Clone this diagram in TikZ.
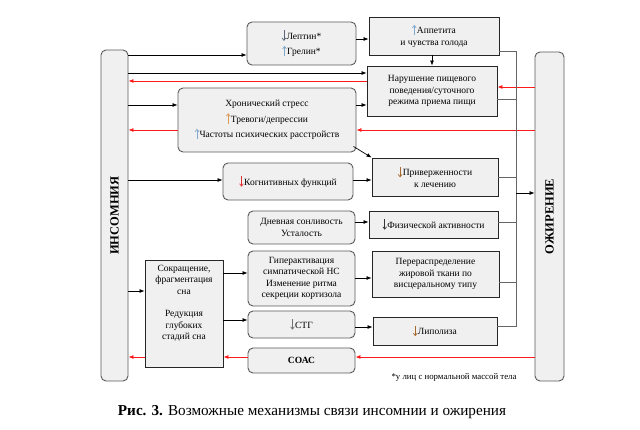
\documentclass[tikz,border=0pt]{standalone}
\usepackage{fontspec}
\usepackage{graphicx}
\setmainfont{Liberation Serif}
\usetikzlibrary{arrows.meta,calc}
\definecolor{boxfill}{HTML}{F0F0F0}
\definecolor{rbord}{HTML}{5A5A5A}
\definecolor{redl}{HTML}{FF1A1A}
\definecolor{upblue}{HTML}{7FA8CC}
\definecolor{uporange}{HTML}{D99A5A}
\definecolor{dnred}{HTML}{E03030}
\definecolor{dngrey}{HTML}{5A6478}
\definecolor{dnbrown}{HTML}{A86A2A}
\newcommand{\UPa}[1]{\tikz[baseline=0pt,x=1pt,y=1pt]\draw[draw=#1,line width=0.7pt,-{Straight Barb[length=2.4pt,width=3.8pt]}] (0,-1.5) -- (0,9);\hspace{0.4pt}}
\newcommand{\DNa}[1]{\tikz[baseline=0pt,x=1pt,y=1pt]\draw[draw=#1,line width=0.7pt,-{Straight Barb[length=2.4pt,width=3.8pt]}] (0,9) -- (0,-1.5);\hspace{0.4pt}}
\newcommand{\txt}{\fontsize{9.5}{11.5}\selectfont}
\begin{document}
\begin{tikzpicture}[x=1pt,y=-1pt,
  rbox/.style={draw=rbord, fill=boxfill, rounded corners=5pt, line width=0.9pt, inner sep=1pt, align=center, font=\txt},
  sbox/.style={draw=black!85, fill=boxfill, line width=0.9pt, inner sep=1pt, align=center, font=\txt},
  arr/.style={-{Latex[length=5pt,width=4pt]}, line width=0.7pt, draw=black},
  rarr/.style={-{Latex[length=5pt,width=4pt]}, line width=0.8pt, draw=redl},
  bus/.style={line width=0.9pt, draw=black!60},
  vlab/.style={rotate=90, font=\fontsize{12.5}{13}\selectfont\bfseries}]
\fill[white] (0,0) rectangle (640,430);
\useasboundingbox (0,0) rectangle (640,430);

% main side boxes
\node[rbox, minimum width=27pt, minimum height=331pt] (ins) at (114.5,215.5) {};
\node[vlab] (insT) at (ins.center) {ИНСОМНИЯ};
\node[rbox, minimum width=29pt, minimum height=329pt] (obe) at (549.5,216.5) {};
\node[vlab] (obeT) at (obe.center) {ОЖИРЕНИЕ};

% boxes
\node[rbox, minimum width=109pt, minimum height=43pt] (lep) at (301.5,43.5) {\DNa{dngrey}Лептин*\\[4pt]\UPa{upblue}Грелин*};
\node[sbox, minimum width=130pt, minimum height=38pt] (app) at (434,36) {\UPa{upblue}Аппетита\\и чувства голода};
\node[sbox, minimum width=130pt, minimum height=50pt] (nar) at (432,91) {Нарушение пищевого\\поведения/суточного\\режима приема пищи};
\node[rbox, minimum width=178pt, minimum height=64pt] (str) at (267,120) {Хронический стресс\\[4pt]\UPa{uporange}Тревоги/депрессии\\[4pt]\UPa{upblue}Частоты психических расстройств};
\node[sbox, minimum width=126pt, minimum height=38pt] (pri) at (435,177) {\DNa{dnbrown}Приверженности\\к лечению};
\node[rbox, minimum width=130pt, minimum height=37pt] (kog) at (288,181.5) {\DNa{dnred}Когнитивных функций};
\node[rbox, minimum width=107pt, minimum height=33pt] (dne) at (301.5,227.5) {Дневная сонливость\\Усталость};
\node[sbox, minimum width=129pt, minimum height=27pt] (fiz) at (433.5,224.5) {\DNa{black!80}Физической активности};
\node[sbox, minimum width=78pt, minimum height=107pt] (sok) at (184,313.5) {};
\node[font=\txt, align=center] (sokT) at (184,303.5) {Сокращение,\\фрагментация\\сна\\[11pt]Редукция\\глубоких\\стадий сна};
\node[rbox, minimum width=107pt, minimum height=55pt] (gip) at (301.5,278.5) {Гиперактивация\\симпатической НС\\Изменение ритма\\секреции кортизола};
\node[sbox, minimum width=127pt, minimum height=46pt] (per) at (435.5,274) {Перераспределение\\жировой ткани по\\висцеральному типу};
\node[rbox, minimum width=107pt, minimum height=27pt] (stg) at (301.5,324.5) {\DNa{black!55}СТГ};
\node[sbox, minimum width=124pt, minimum height=28pt] (lip) at (435,331) {\DNa{dnbrown}Липолиза};
\node[rbox, minimum width=107pt, minimum height=25pt, font=\txt\bfseries] (soa) at (301.5,360.5) {СОАС};

\node[font=\fontsize{8.8}{9}\selectfont] (fn) at (454,377) {*у лиц с нормальной массой тела};
\node[font=\fontsize{15.2}{16}\selectfont] (cap) at (312,412) {\textbf{Рис. 3.} Возможные механизмы связи инсомнии и ожирения};

% connectors
\draw[arr] (ins.east |- 0,55) -- (lep.west |- 0,55);
\draw[arr] (lep.east |- 0,39) -- (app.west |- 0,39);
\draw[arr] (app.south -| nar.north) -- (nar.north);
\draw[arr] (ins.east |- 0,73) -- (nar.west |- 0,73);
\draw[rarr] (nar.west |- 0,81) -- (ins.east |- 0,81);
\draw[rarr] (obe.west |- 0,87) -- (nar.east |- 0,87);
\draw[arr] (ins.east |- 0,105) -- (str.west |- 0,105);
\draw[arr] (str.east |- 0,105) -- (nar.west |- 0,105);
\draw[rarr] (str.west |- 0,130) -- (ins.east |- 0,130);
\draw[rarr] (obe.west |- 0,130) -- (str.east |- 0,130);
\draw[arr] ($(str.south east)+(-3,-6)$) -- (pri.north west);
\draw[arr] (ins.east |- 0,180) -- (kog.west |- 0,180);
\draw[arr] (kog.east |- 0,180) -- (pri.west |- 0,180);
\draw[arr] (dne.east |- 0,222) -- (fiz.west |- 0,222);
\draw[arr] (ins.east |- 0,291) -- (sok.west |- 0,291);
\draw[arr] (sok.east |- 0,273) -- (gip.west |- 0,273);
\draw[arr] (gip.east |- 0,278) -- (per.west |- 0,278);
\draw[arr] (sok.east |- 0,320) -- (stg.west |- 0,320);
\draw[arr] (stg.east |- 0,327) -- (lip.west |- 0,327);
\draw[rarr] (obe.west |- 0,357) -- (soa.east |- 0,357);
\draw[rarr] (soa.west |- 0,357) -- (sok.east |- 0,357);
\draw[rarr] (sok.west |- 0,357) -- (ins.east |- 0,357);

% collector bus
\coordinate (busT) at (516,51);
\coordinate (busB) at (516,326);
\draw[bus] (app.east |- busT) -- (busT) -- (busB) -- (lip.east |- busB);
\draw[bus] (nar.east |- 0,99) -- (busT |- 0,99);
\draw[bus] (pri.east |- 0,177) -- (busT |- 0,177);
\draw[bus] (fiz.east |- 0,222) -- (busT |- 0,222);
\draw[bus] (per.east |- 0,282) -- (busT |- 0,282);
\draw[arr] (busT |- 0,193) -- (obe.west |- 0,193);
\end{tikzpicture}
\end{document}
